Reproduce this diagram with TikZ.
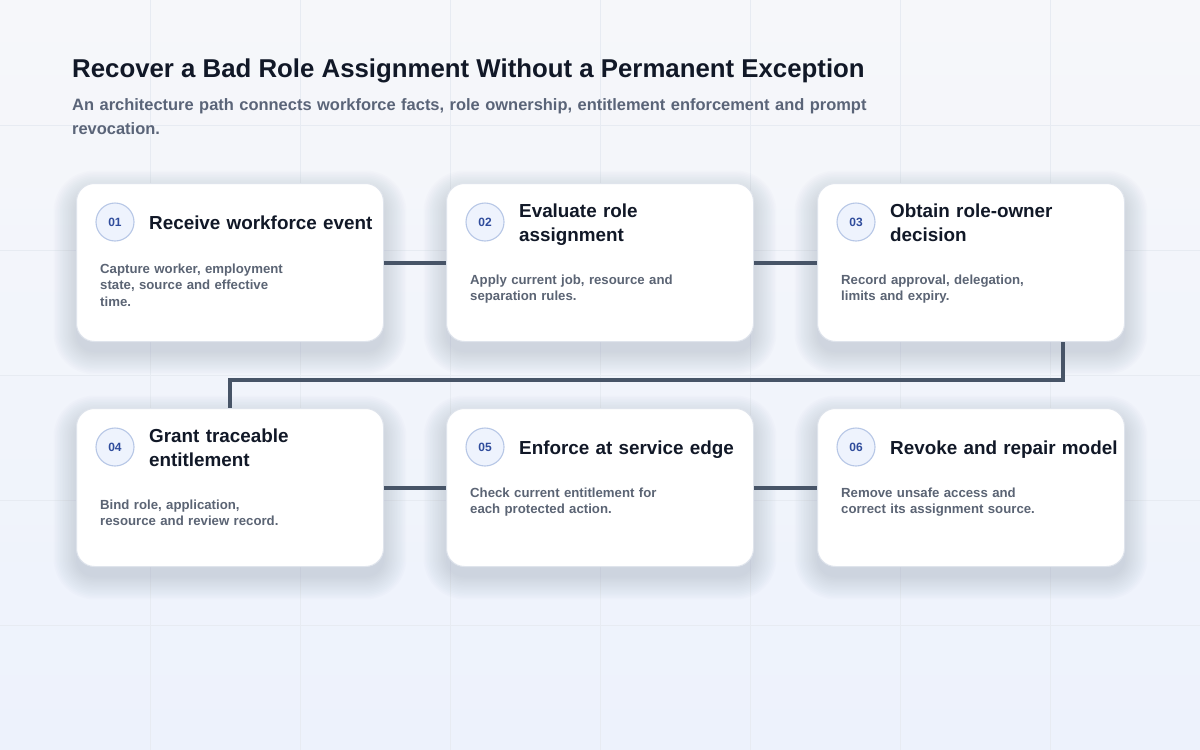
\documentclass[tikz,border=0pt]{standalone}
\usepackage{fontspec}
\setmainfont{Liberation Sans}
\usetikzlibrary{calc}
\definecolor{bgtop}{HTML}{F6F7FA}
\definecolor{bgbot}{HTML}{EDF2FC}
\definecolor{gridc}{HTML}{E7EBF2}
\definecolor{ink}{HTML}{111827}
\definecolor{subc}{HTML}{5A6478}
\definecolor{descc}{HTML}{5B6474}
\definecolor{numc}{HTML}{2F4C9C}
\definecolor{circf}{HTML}{EEF3FD}
\definecolor{circd}{HTML}{B7C7E6}
\definecolor{cardd}{HTML}{DFE4EC}
\definecolor{connc}{HTML}{475467}
\definecolor{shadc}{HTML}{7D8AAE}
\pgfdeclarelayer{backlayer}
\pgfdeclarelayer{shadowlayer}
\pgfsetlayers{backlayer,shadowlayer,main}
\newcommand\cshadow[1]{%
  \foreach \k in {0,...,14}{%
    \pgfmathsetmacro\ee{1.6*\k}%
    \pgfmathsetmacro\rr{18+1.6*\k}%
    \fill[shadc, opacity=0.018, rounded corners=\rr pt]
      ($(#1.north west)+(-\ee,10-\ee)$) rectangle ($(#1.south east)+(\ee,10+\ee)$);
  }}
\begin{document}
\begin{tikzpicture}[x=1pt,y=-1pt,
  card/.style={draw=cardd, line width=1pt, fill=white, rounded corners=18pt,
    minimum width=307pt, minimum height=158pt, inner sep=0pt, anchor=north west},
  numcirc/.style={circle, draw=circd, fill=circf, line width=1.1pt, minimum size=38pt,
    inner sep=0pt, font=\fontsize{12}{12}\selectfont\bfseries, text=numc},
  ttl/.style={anchor=base west, inner sep=0pt, text width=260pt, align=left,
    font=\fontsize{18.85}{24}\selectfont\bfseries, text=ink},
  dsc/.style={anchor=base west, inner sep=0pt, text width=260pt, align=left,
    font=\fontsize{13.2}{16.5}\selectfont\bfseries, text=descc},
  conn/.style={draw=connc, line width=4pt}]
\useasboundingbox (0,0) rectangle (1200,750);
\begin{pgfonlayer}{backlayer}
\shade[top color=bgtop, bottom color=bgbot] (0,0) rectangle (1200,750);
\foreach \x in {150,300,...,1050} \draw[gridc, line width=0.8pt] (\x,0) -- (\x,750);
\foreach \y in {125,250,...,625} \draw[gridc, line width=0.8pt] (0,\y) -- (1200,\y);
\end{pgfonlayer}

\node[anchor=base west, inner sep=0pt, font=\fontsize{25.8}{30}\selectfont\bfseries, text=ink]
  (title) at (72,77) {Recover a Bad Role Assignment Without a Permanent Exception};
\node[anchor=base west, inner sep=0pt, text width=820pt, align=left,
  font=\fontsize{16.45}{24}\selectfont\bfseries, text=subc]
  (sub) at (72,110) {An architecture path connects workforce facts, role ownership, entitlement enforcement and prompt\\revocation.};

\node[card] (c1) at (76,183) {};
\node[card] (c2) at (446,183) {};
\node[card] (c3) at (817,183) {};
\node[card] (c4) at (76,408) {};
\node[card] (c5) at (446,408) {};
\node[card] (c6) at (817,408) {};

\begin{pgfonlayer}{shadowlayer}
\cshadow{c1}\cshadow{c2}\cshadow{c3}\cshadow{c4}\cshadow{c5}\cshadow{c6}
\end{pgfonlayer}

\node[numcirc] (n1) at ($(c1.north west)+(39,39)$) {01};
\node[numcirc] (n2) at ($(c2.north west)+(39,39)$) {02};
\node[numcirc] (n3) at ($(c3.north west)+(39,39)$) {03};
\node[numcirc] (n4) at ($(c4.north west)+(39,39)$) {04};
\node[numcirc] (n5) at ($(c5.north west)+(39,39)$) {05};
\node[numcirc] (n6) at ($(c6.north west)+(39,39)$) {06};

\node[ttl] (t1) at ($(c1.north west)+(73,46)$) {Receive workforce event};
\node[ttl] (t2) at ($(c2.north west)+(73,34)$) {Evaluate role\\assignment};
\node[ttl] (t3) at ($(c3.north west)+(73,34)$) {Obtain role-owner\\decision};
\node[ttl] (t4) at ($(c4.north west)+(73,34)$) {Grant traceable\\entitlement};
\node[ttl] (t5) at ($(c5.north west)+(73,46)$) {Enforce at service edge};
\node[ttl] (t6) at ($(c6.north west)+(73,46)$) {Revoke and repair model};

\node[dsc] (d1) at ($(c1.north west)+(24,90)$) {Capture worker, employment\\state, source and effective\\time.};
\node[dsc] (d2) at ($(c2.north west)+(24,101)$) {Apply current job, resource and\\separation rules.};
\node[dsc] (d3) at ($(c3.north west)+(24,101)$) {Record approval, delegation,\\limits and expiry.};
\node[dsc] (d4) at ($(c4.north west)+(24,101)$) {Bind role, application,\\resource and review record.};
\node[dsc] (d5) at ($(c5.north west)+(24,89)$) {Check current entitlement for\\each protected action.};
\node[dsc] (d6) at ($(c6.north west)+(24,89)$) {Remove unsafe access and\\correct its assignment source.};

\draw[conn] (c1.east) -- (c2.west);
\draw[conn] (c2.east) -- (c3.west);
\draw[conn] (c4.east) -- (c5.west);
\draw[conn] (c5.east) -- (c6.west);
\draw[conn, line join=miter] ([xshift=91.5pt]c3.south) -- ++(0,38) -| (c4.north);
\end{tikzpicture}
\end{document}
